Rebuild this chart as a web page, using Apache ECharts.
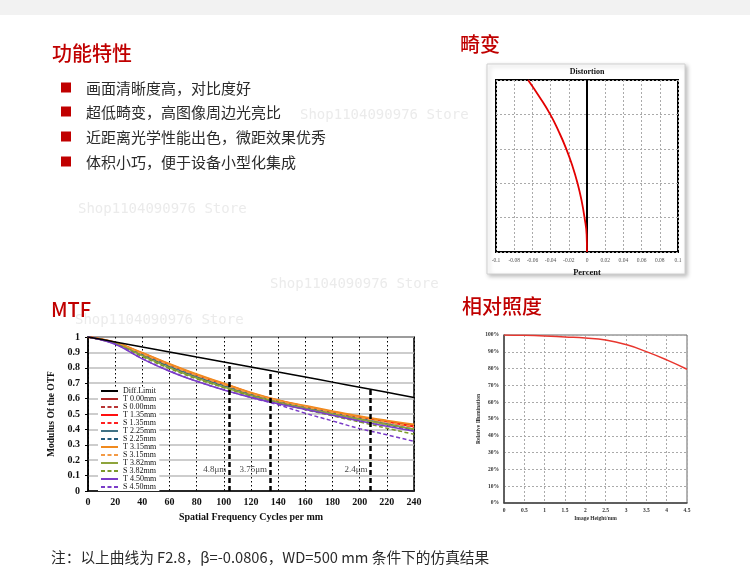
<!DOCTYPE html>
<html><head><meta charset="utf-8">
<script src="https://cdn.jsdelivr.net/npm/echarts@6/dist/echarts.min.js"></script>
<style>html,body{margin:0;padding:0;background:#fff}#c{width:750px;height:580px}</style>
</head><body><div id="c"></div><script>
// ---------- text ----------
const headings = ['功能特性', '畸变', 'MTF', '相对照度'];
const bullets = ['画面清晰度高，对比度好', '超低畸变，高图像周边光亮比', '近距离光学性能出色，微距效果优秀', '体积小巧，便于设备小型化集成'];
const footnote = '注：以上曲线为 F2.8，β=-0.0806，WD=500 mm 条件下的仿真结果';
const watermark = 'Shop1104090976 Store';

// ---------- distortion ----------
const distField = [0, 0.1, 0.2, 0.3, 0.4, 0.5, 0.6, 0.7, 0.8, 0.9, 1.0];
const distPercent = [0, -0.0004, -0.0027, -0.006, -0.0104, -0.016, -0.0228, -0.031, -0.0404, -0.052, -0.0648];
const distZero = [0, 0];
const distZeroField = [0, 1];

// ---------- MTF ----------
const mtfFreq = [0, 20, 40, 60, 80, 100, 120, 140, 160, 180, 200, 220, 240];
const diffLimit = [1, 0.968, 0.935, 0.903, 0.870, 0.838, 0.805, 0.772, 0.740, 0.707, 0.674, 0.641, 0.607];
const t000 = [1, 0.962, 0.893, 0.820, 0.752, 0.693, 0.634, 0.586, 0.548, 0.513, 0.480, 0.452, 0.425];
const s000 = [1, 0.962, 0.892, 0.819, 0.751, 0.692, 0.633, 0.585, 0.547, 0.512, 0.479, 0.451, 0.424];
const t135 = [1, 0.963, 0.895, 0.823, 0.755, 0.696, 0.636, 0.588, 0.550, 0.514, 0.481, 0.450, 0.418];
const s135 = [1, 0.962, 0.893, 0.821, 0.753, 0.694, 0.634, 0.586, 0.548, 0.512, 0.478, 0.447, 0.415];
const t225 = [1, 0.960, 0.885, 0.810, 0.742, 0.684, 0.626, 0.580, 0.542, 0.505, 0.470, 0.437, 0.400];
const s225 = [1, 0.960, 0.882, 0.806, 0.738, 0.680, 0.623, 0.577, 0.538, 0.500, 0.464, 0.430, 0.395];
const t315 = [1, 0.964, 0.897, 0.825, 0.758, 0.698, 0.638, 0.590, 0.553, 0.518, 0.485, 0.457, 0.432];
const s315 = [1, 0.962, 0.890, 0.817, 0.750, 0.690, 0.632, 0.585, 0.546, 0.510, 0.476, 0.446, 0.418];
const t382 = [1, 0.958, 0.878, 0.800, 0.733, 0.675, 0.620, 0.575, 0.536, 0.500, 0.465, 0.432, 0.402];
const s382 = [1, 0.957, 0.873, 0.795, 0.728, 0.671, 0.617, 0.571, 0.528, 0.488, 0.448, 0.408, 0.368];
const t450 = [1, 0.953, 0.858, 0.778, 0.712, 0.656, 0.608, 0.566, 0.530, 0.492, 0.455, 0.420, 0.388];
const s450 = [1, 0.954, 0.860, 0.780, 0.713, 0.657, 0.607, 0.560, 0.505, 0.455, 0.405, 0.365, 0.322];
const mtfNames = ['Diff.Limit', 'T 0.00mm', 'S 0.00mm', 'T 1.35mm', 'S 1.35mm', 'T 2.25mm', 'S 2.25mm',
  'T 3.15mm', 'S 3.15mm', 'T 3.82mm', 'S 3.82mm', 'T 4.50mm', 'S 4.50mm'];
const mtfValues = [diffLimit, t000, s000, t135, s135, t225, s225, t315, s315, t382, s382, t450, s450];
const pixelFreq = [104, 134, 208];
const pixelTop = [0.828, 0.772, 0.660];
const pixelLabelY = [0.14, 0.14, 0.14];
const pixelLabels = ['4.8μm', '3.75μm', '2.4μm'];

// ---------- relative illumination ----------
const illumHeight = [0, 0.5, 1, 1.5, 2, 2.5, 3, 3.5, 4, 4.5];
const illumPct = [100, 99.8, 99.4, 98.8, 98.2, 97.0, 94.3, 90.1, 85.2, 79.6];

// ---------- styles ----------
const RED = '#c00000';
const mtfColors = ['#000000', '#b02828', '#b83434', '#ff1010', '#ff2020', '#3f7285', '#235b7c',
  '#f08a1e', '#f39a45', '#8ea43c', '#7b9a2a', '#7a3cc8', '#7a3cc8'];
const mtfWidths = [1.5, 1.3, 1.3, 1.8, 1.5, 1.6, 1.4, 2, 1.5, 1.6, 1.5, 1.6, 1.5];
const serif = 'Liberation Serif';
const cjk = '"Noto Sans CJK SC", "Noto Sans", sans-serif';

const chart = echarts.init(document.getElementById('c'), null, {renderer: 'canvas'});

const wmFont = '14px "DejaVu Sans Mono"';
const graphics = [
  {type: 'rect', shape: {x: 0, y: 0, width: 750, height: 15}, style: {fill: '#f2f2f2'}, z: -10},
  // watermarks
  {type: 'text', x: 300, y: 108, style: {text: watermark, fill: '#ebebeb', font: wmFont}, z: -5},
  {type: 'text', x: 78, y: 202, style: {text: watermark, fill: '#ebebeb', font: wmFont}, z: -5},
  {type: 'text', x: 270, y: 277, style: {text: watermark, fill: '#ebebeb', font: wmFont}, z: -5},
  {type: 'text', x: 75, y: 313, style: {text: watermark, fill: '#ebebeb', font: wmFont}, z: -5},
  // headings
  {type: 'text', x: 52, y: 53, style: {text: headings[0], fill: RED, font: '500 20px ' + cjk, textVerticalAlign: 'middle'}},
  {type: 'text', x: 460, y: 44, style: {text: headings[1], fill: RED, font: '500 20px ' + cjk, textVerticalAlign: 'middle'}},
  {type: 'text', x: 51, y: 309, style: {text: headings[2], fill: RED, font: '500 20px ' + cjk, textVerticalAlign: 'middle'}},
  {type: 'text', x: 462, y: 306, style: {text: headings[3], fill: RED, font: '500 20px ' + cjk, textVerticalAlign: 'middle'}},
  // distortion image frame
  {type: 'rect', shape: {x: 487, y: 64, width: 198, height: 210},
    style: {fill: '#fff', stroke: '#d0d0d0', lineWidth: 1, shadowBlur: 4, shadowColor: 'rgba(0,0,0,0.25)', shadowOffsetX: 2, shadowOffsetY: 2}, z: -2},
  {type: 'text', x: 587, y: 72, style: {text: 'Distortion', fill: '#111', font: 'bold 8px ' + serif, textAlign: 'center', textVerticalAlign: 'middle'}},
  // footnote
  {type: 'text', x: 51, y: 557, style: {text: footnote, fill: '#2a2a2a', font: '14.7px ' + cjk, textVerticalAlign: 'middle'}}
];
bullets.forEach((b, i) => {
  const cy = [87.5, 111.5, 136.5, 161.5][i];
  graphics.push({type: 'rect', shape: {x: 61, y: cy - 5, width: 10, height: 10}, style: {fill: RED}});
  graphics.push({type: 'text', x: 86, y: cy + 1, style: {text: b, fill: '#2a2a2a', font: '15px ' + cjk, textVerticalAlign: 'middle'}});
});

const series = [];
// distortion
series.push({type: 'line', xAxisIndex: 0, yAxisIndex: 0, data: distZero.map((v, i) => [v, distZeroField[i]]),
  symbol: 'none', lineStyle: {color: '#000', width: 2}, silent: true, z: 3});
series.push({type: 'line', xAxisIndex: 0, yAxisIndex: 0, data: distPercent.map((v, i) => [v, distField[i]]),
  symbol: 'none', smooth: true, lineStyle: {color: '#e30000', width: 1.8}, silent: true, z: 4});
// MTF curves
mtfNames.forEach((name, k) => {
  const dashed = name.startsWith('S');
  series.push({type: 'line', name: name, xAxisIndex: 1, yAxisIndex: 1, symbol: 'none', smooth: 0.4,
    data: mtfFreq.map((f, i) => [f, mtfValues[k][i]]),
    lineStyle: {color: mtfColors[k], width: mtfWidths[k], type: dashed ? [4, 2.5] : 'solid'},
    itemStyle: {color: mtfColors[k]}, z: k === 0 ? 5 : 3});
});
// pixel size markers
series.push({type: 'line', xAxisIndex: 1, yAxisIndex: 1, symbol: 'none', data: [], silent: true,
  markLine: {symbol: 'none', silent: true, label: {show: false},
    lineStyle: {color: '#000', width: 2.5, type: [5, 3]},
    data: pixelFreq.map((f, i) => [{coord: [f, 0]}, {coord: [f, pixelTop[i]]}])}, z: 6});
series.push({type: 'scatter', xAxisIndex: 1, yAxisIndex: 1, symbolSize: 0, silent: true,
  data: pixelFreq.map((f, i) => ({value: [f, pixelLabelY[i]], label: {formatter: pixelLabels[i]}})),
  label: {show: true, position: 'left', distance: 3, color: '#111', fontFamily: serif, fontSize: 9}, z: 7});
// illumination
series.push({type: 'line', xAxisIndex: 2, yAxisIndex: 2, symbol: 'none', smooth: true,
  data: illumHeight.map((h, i) => [h, illumPct[i]]), lineStyle: {color: '#e8362e', width: 1.5}, silent: true});

const option = {
  animation: false,
  backgroundColor: '#fff',
  graphic: graphics,
  grid: [
    {left: 496, top: 80, width: 182, height: 172, show: true, borderColor: '#000', borderWidth: 2, backgroundColor: 'transparent'},
    {left: 88, top: 337, width: 326, height: 154, show: true, borderColor: '#000', borderWidth: 1.5},
    {left: 504, top: 335, width: 183, height: 168, show: true, borderColor: '#666', borderWidth: 1}
  ],
  legend: {
    data: mtfNames, orient: 'vertical', left: 98, top: 387, itemWidth: 17, itemHeight: 5, itemGap: 0,
    backgroundColor: '#fff', padding: [0, 3, 0, 2], selectedMode: false,
    itemStyle: {opacity: 0},
    textStyle: {fontFamily: serif, fontSize: 8, color: '#111', lineHeight: 7.9, padding: 0},
    z: 8
  },
  xAxis: [
    {type: 'value', gridIndex: 0, min: -0.1, max: 0.1, interval: 0.02,
      name: 'Percent', nameLocation: 'middle', nameGap: 16,
      nameTextStyle: {fontFamily: serif, fontWeight: 'bold', fontSize: 8.5, color: '#111'},
      axisLine: {show: false}, axisTick: {show: false},
      axisLabel: {fontFamily: serif, fontSize: 5.5, color: '#555', margin: 6},
      splitLine: {show: true, lineStyle: {color: '#aaa', type: [2, 2], width: 1}}},
    {type: 'value', gridIndex: 1, min: 0, max: 240, interval: 20,
      name: 'Spatial Frequency Cycles per mm', nameLocation: 'middle', nameGap: 21,
      nameTextStyle: {fontFamily: serif, fontWeight: 'bold', fontSize: 10, color: '#111'},
      axisLine: {show: true, lineStyle: {color: '#000', width: 1.5}}, axisTick: {show: false},
      axisLabel: {fontFamily: serif, fontWeight: 'bold', fontSize: 10, color: '#111', margin: 6},
      splitLine: {show: true, lineStyle: {color: '#000', type: [1.5, 2.5], width: 1}}},
    {type: 'value', gridIndex: 2, min: 0, max: 4.5, interval: 0.5,
      name: 'Image Height/mm', nameLocation: 'middle', nameGap: 13,
      nameTextStyle: {fontFamily: serif, fontWeight: 'bold', fontSize: 5.5, color: '#333'},
      axisLine: {show: true, lineStyle: {color: '#444', width: 1.5}}, axisTick: {show: false},
      axisLabel: {fontFamily: serif, fontWeight: 'bold', fontSize: 5.5, color: '#333', margin: 5},
      splitLine: {show: true, lineStyle: {color: '#aaa', type: [2, 2], width: 1}}}
  ],
  yAxis: [
    {type: 'value', gridIndex: 0, min: 0, max: 1, interval: 0.2,
      axisLine: {show: false}, axisTick: {show: false}, axisLabel: {show: false},
      splitLine: {show: true, lineStyle: {color: '#aaa', type: [2, 2], width: 1}}},
    {type: 'value', gridIndex: 1, min: 0, max: 1, interval: 0.1,
      name: 'Modulus Of the OTF', nameLocation: 'middle', nameGap: 31, nameRotate: 90,
      nameTextStyle: {fontFamily: serif, fontWeight: 'bold', fontSize: 9.5, color: '#111'},
      axisLine: {show: true, lineStyle: {color: '#000', width: 1.5}},
      axisTick: {show: true, length: 3, lineStyle: {color: '#000'}},
      axisLabel: {fontFamily: serif, fontWeight: 'bold', fontSize: 10, color: '#111', margin: 8},
      splitLine: {show: true, lineStyle: {color: '#bdbdbd', width: 1.5}}},
    {type: 'value', gridIndex: 2, min: 0, max: 100, interval: 10,
      name: 'Relative Illumination', nameLocation: 'middle', nameGap: 20, nameRotate: 90,
      nameTextStyle: {fontFamily: serif, fontWeight: 'bold', fontSize: 5.5, color: '#333'},
      axisLine: {show: true, lineStyle: {color: '#444', width: 1.5}}, axisTick: {show: false},
      axisLabel: {fontFamily: serif, fontWeight: 'bold', fontSize: 5.5, color: '#333', margin: 5, formatter: '{value}%'},
      splitLine: {show: true, lineStyle: {color: '#aaa', type: [2, 2], width: 1}}}
  ],
  series: series
};
chart.setOption(option);
</script></body></html>
